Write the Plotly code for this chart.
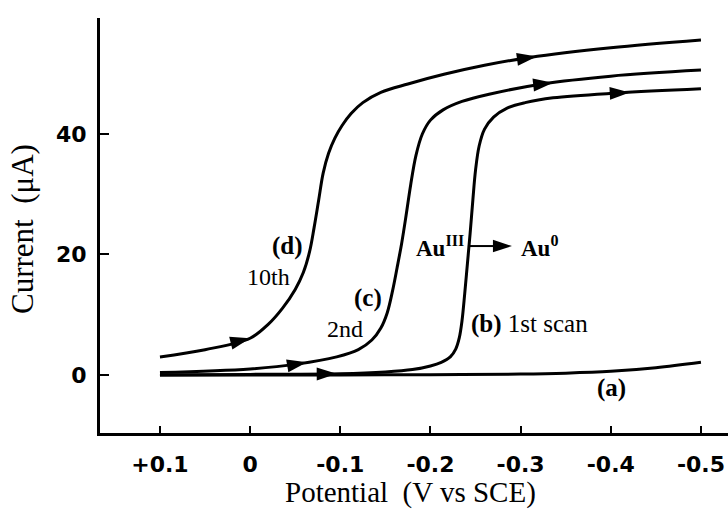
import numpy as np
import plotly.graph_objects as go

# ---- data (Potential V vs SCE, Current uA) ----
a_V = [0.1, 0.0, -0.1, -0.2, -0.3, -0.35, -0.4, -0.45, -0.5]
a_I = [0.0, 0.0, 0.0, 0.05, 0.15, 0.3, 0.6, 1.2, 2.1]

b_V = [0.1, 0.0, -0.1, -0.15, -0.18, -0.2, -0.212, -0.222, -0.228, -0.232, -0.235, -0.238,
       -0.241, -0.244, -0.247, -0.25, -0.254, -0.26, -0.27, -0.285, -0.305, -0.336, -0.407, -0.5]
b_I = [0.0, 0.1, 0.2, 0.5, 0.9, 1.5, 2.1, 3.0, 4.3, 6.2, 9.0, 13.5,
       18.5, 23.5, 29.0, 34.0, 38.0, 40.8, 42.8, 44.3, 45.2, 46.0, 46.8, 47.5]

c_V = [0.1, 0.0, -0.052, -0.096, -0.12, -0.135, -0.145, -0.152, -0.158, -0.163, -0.168,
       -0.173, -0.178, -0.184, -0.191, -0.2, -0.214, -0.235, -0.265, -0.324, -0.4, -0.5]
c_I = [0.4, 1.0, 1.8, 3.0, 4.2, 5.8, 7.8, 10.3, 14.0, 17.8, 21.8,
       26.5, 31.5, 36.5, 40.0, 42.3, 44.0, 45.4, 46.6, 48.3, 49.6, 50.6]

d_V = [0.1, 0.05, 0.0, -0.02, -0.036, -0.05, -0.059, -0.066, -0.071, -0.076, -0.081, -0.087,
       -0.094, -0.102, -0.112, -0.125, -0.145, -0.175, -0.215, -0.26, -0.31, -0.4, -0.5]
d_I = [3.0, 4.2, 6.1, 8.4, 11.1, 14.2, 17.0, 20.5, 24.5, 29.0, 33.5, 36.8,
       39.3, 41.4, 43.4, 45.2, 46.9, 48.3, 49.9, 51.4, 52.7, 54.3, 55.6]

# arrow tips (potential) along each scan
b_arrows = [-0.096, -0.421]
c_arrows = [-0.063, -0.336]
d_arrows = [0.0, -0.318]

# reaction arrow Au(III) -> Au(0): [tail, tip] potentials and current level
rxn_arrow_V = [-0.2416, -0.2904]
rxn_arrow_I = 21.4

x_ticks = [0.1, 0.0, -0.1, -0.2, -0.3, -0.4, -0.5]
x_ticklabels = ["+0.1", "0", "-0.1", "-0.2", "-0.3", "-0.4", "-0.5"]
y_ticks = [0, 20, 40]
y_ticklabels = ["0", "20", "40"]

fig = go.Figure()

for V, I in [(a_V, a_I), (b_V, b_I), (c_V, c_I), (d_V, d_I)]:
    fig.add_trace(go.Scatter(x=V, y=I, mode="lines",
                             line=dict(color="black", width=3, shape="spline", smoothing=1.0),
                             hoverinfo="skip", showlegend=False))

for V, I, tips in [(b_V, b_I, b_arrows), (c_V, c_I, c_arrows), (d_V, d_I, d_arrows)]:
    Vr, Ir = V[::-1], I[::-1]
    for t in tips:
        tail = t + 0.012
        xs = [tail, t]
        ys = [float(np.interp(tail, Vr, Ir)), float(np.interp(t, Vr, Ir))]
        fig.add_trace(go.Scatter(x=xs, y=ys, mode="markers",
                                 marker=dict(symbol="arrow", angleref="previous",
                                             size=[0, 21], color="black", opacity=[0, 1],
                                             line=dict(width=0)),
                                 hoverinfo="skip", showlegend=False))

# reaction arrow
fig.add_trace(go.Scatter(x=rxn_arrow_V, y=[rxn_arrow_I, rxn_arrow_I], mode="lines+markers",
                         line=dict(color="black", width=2),
                         marker=dict(symbol="arrow", angleref="previous", size=[0, 20],
                                     color="black", opacity=[0, 1], line=dict(width=0)),
                         hoverinfo="skip", showlegend=False))

serif = "Liberation Serif"
anns = []
def lab(text, x, y, size=25, xanchor="center"):
    anns.append(dict(text=text, x=x, y=y, xref="x", yref="y", showarrow=False,
                     xanchor=xanchor, yanchor="middle",
                     font=dict(family=serif, size=size, color="black")))

lab("<b>(d)</b>", -0.041, 21.4)
lab("10th", -0.02, 16.3, size=24)
lab("<b>(c)</b>", -0.131, 12.8)
lab("2nd", -0.105, 7.6, size=24)
lab("<b>(b)</b> 1st scan", -0.310, 8.5)
lab("<b>(a)</b>", -0.401, -2.2)
lab("<b>Au<sup>III</sup></b>", -0.2395, 21.4, size=23, xanchor="right")
lab("<b>Au<sup>0</sup></b>", -0.298, 21.4, size=23, xanchor="left")

anns.append(dict(text="Current  (\u03bcA)", xref="paper", yref="paper",
                 x=(23 - 100) / 628, y=(433 - 229) / 415, textangle=-90,
                 showarrow=False, xanchor="center", yanchor="middle",
                 font=dict(family=serif, size=31, color="black")))
anns.append(dict(text="Potential  (V vs SCE)", xref="paper", yref="paper",
                 x=(410 - 100) / 628, y=-(492 - 433) / 415,
                 showarrow=False, xanchor="center", yanchor="middle",
                 font=dict(family=serif, size=29, color="black")))

tickfont = dict(family="DejaVu Sans", size=22, color="black", weight="bold")
fig.update_layout(
    width=728, height=512,
    margin=dict(l=100, r=0, t=18, b=79),
    paper_bgcolor="white", plot_bgcolor="white",
    annotations=anns,
    xaxis=dict(range=[0.1665, -0.53], showgrid=False, zeroline=False,
               showline=True, linewidth=3, linecolor="black",
               ticks="inside", ticklen=7, tickwidth=2, tickcolor="black",
               tickvals=x_ticks, ticktext=x_ticklabels, ticklabelstandoff=10,
               tickfont=tickfont),
    yaxis=dict(range=[-9.63, 59.25], showgrid=False, zeroline=False,
               showline=True, linewidth=3, linecolor="black",
               ticks="inside", ticklen=9, tickwidth=2, tickcolor="black",
               tickvals=y_ticks, ticktext=y_ticklabels, ticklabelstandoff=6,
               tickfont=tickfont),
)

fig.write_html("out.html")
